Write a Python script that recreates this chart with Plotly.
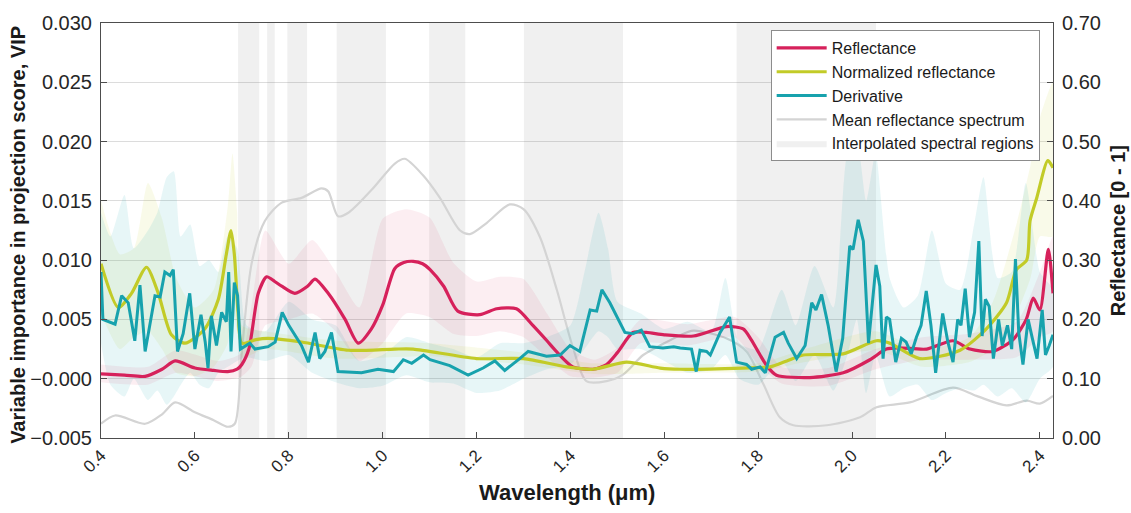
import plotly.graph_objects as go

# ---------------- data ----------------
# VIP profiles (left axis) for three model inputs
refl_wl = [0.40, 0.45, 0.494, 0.53, 0.558, 0.60, 0.64, 0.67, 0.69, 0.70, 0.715, 0.735, 0.753, 0.77,
           0.785, 0.813, 0.84, 0.856, 0.884, 0.92, 0.948, 0.976, 1.00, 1.026, 1.045, 1.065, 1.085,
           1.101, 1.13, 1.16, 1.207, 1.243, 1.285, 1.32, 1.35, 1.37, 1.405, 1.448, 1.477, 1.50,
           1.533, 1.562, 1.60, 1.662, 1.733, 1.768, 1.785, 1.804, 1.82, 1.839, 1.91, 1.981, 2.038,
           2.073, 2.10, 2.159, 2.215, 2.251, 2.30, 2.343, 2.371, 2.386, 2.40, 2.418, 2.428]
refl_vip = [0.0004, 0.0003, 0.0002, 0.0008, 0.0015, 0.0009, 0.0007, 0.0006, 0.0008, 0.0012, 0.0025,
            0.0072, 0.0086, 0.0082, 0.0078, 0.0072, 0.0078, 0.0084, 0.0072, 0.0050, 0.0030, 0.0042,
            0.0062, 0.0093, 0.0098, 0.0099, 0.0097, 0.0092, 0.0078, 0.0057, 0.0054, 0.0059, 0.0059,
            0.0045, 0.0032, 0.0023, 0.0010, 0.0008, 0.0012, 0.0022, 0.0039, 0.0039, 0.0037, 0.0036,
            0.0044, 0.0042, 0.0033, 0.0020, 0.0010, 0.0003, 0.0001, 0.0005, 0.0016, 0.0025, 0.0026,
            0.0025, 0.0032, 0.0025, 0.0023, 0.0033, 0.0050, 0.0068, 0.0058, 0.0109, 0.0072]
refl_band_wl = [0.40, 0.50, 0.56, 0.65, 0.70, 0.72, 0.75, 0.80, 0.85, 0.90, 0.95, 1.00, 1.05, 1.10,
                1.15, 1.20, 1.25, 1.30, 1.35, 1.40, 1.45, 1.50, 1.55, 1.65, 1.75, 1.80, 1.85, 1.95,
                2.05, 2.15, 2.25, 2.35, 2.40, 2.428]
refl_hi = [0.0012, 0.0010, 0.0024, 0.0015, 0.0022, 0.0060, 0.0125, 0.0097, 0.0117, 0.0090, 0.0060,
           0.0135, 0.0143, 0.0136, 0.0098, 0.0082, 0.0086, 0.0084, 0.0055, 0.0025, 0.0016, 0.0026,
           0.0050, 0.0046, 0.0052, 0.0035, 0.0010, 0.0009, 0.0025, 0.0035, 0.0038, 0.0048, 0.0090,
           0.0120]
refl_lo = [-0.0003, -0.0005, 0.0005, -0.0002, 0.0002, 0.0010, 0.0045, 0.0050, 0.0055, 0.0040, 0.0015,
           0.0030, 0.0055, 0.0052, 0.0038, 0.0036, 0.0040, 0.0035, 0.0018, 0.0002, 0.0001, 0.0005,
           0.0030, 0.0028, 0.0035, 0.0012, -0.0004, -0.0006, 0.0008, 0.0016, 0.0016, 0.0018, 0.0035,
           0.0040]

norm_wl = [0.40, 0.437, 0.465, 0.497, 0.522, 0.55, 0.579, 0.621, 0.65, 0.667, 0.677, 0.684, 0.692,
           0.70, 0.73, 0.756, 0.827, 0.927, 1.026, 1.065, 1.20, 1.30, 1.392, 1.448, 1.52, 1.591,
           1.633, 1.768, 1.825, 1.861, 1.896, 1.981, 2.052, 2.08, 2.144, 2.23, 2.286, 2.329, 2.35,
           2.372, 2.379, 2.393, 2.417, 2.428]
norm_vip = [0.0097, 0.0060, 0.0072, 0.0094, 0.0072, 0.0037, 0.0030, 0.0042, 0.0067, 0.0105, 0.0125,
            0.0105, 0.0056, 0.0030, 0.0033, 0.0034, 0.0031, 0.0024, 0.0025, 0.0025, 0.0017, 0.0017,
            0.0010, 0.0008, 0.0014, 0.0009, 0.0008, 0.0009, 0.0010, 0.0015, 0.0020, 0.0021, 0.0032,
            0.0030, 0.0017, 0.0024, 0.0042, 0.0064, 0.0092, 0.0100, 0.0133, 0.0152, 0.0184, 0.0178]
norm_band_wl = [0.40, 0.44, 0.47, 0.50, 0.53, 0.56, 0.60, 0.64, 0.67, 0.68, 0.69, 0.70, 0.75, 0.90,
                1.10, 1.30, 1.45, 1.60, 1.80, 1.90, 2.05, 2.15, 2.25, 2.30, 2.35, 2.38, 2.40, 2.428]
norm_hi = [0.0150, 0.0105, 0.0110, 0.0165, 0.0135, 0.0085, 0.0060, 0.0075, 0.0145, 0.0190, 0.0140,
           0.0045, 0.0040, 0.0032, 0.0030, 0.0022, 0.0013, 0.0013, 0.0013, 0.0025, 0.0040, 0.0025,
           0.0035, 0.0065, 0.0130, 0.0180, 0.0220, 0.0250]
norm_lo = [0.0055, 0.0025, 0.0035, 0.0040, 0.0025, 0.0005, 0.0002, 0.0010, 0.0030, 0.0060, 0.0040,
           0.0018, 0.0025, 0.0017, 0.0019, 0.0012, 0.0004, 0.0005, 0.0006, 0.0014, 0.0024, 0.0010,
           0.0014, 0.0025, 0.0055, 0.0085, 0.0120, 0.0120]

deriv_wl = [0.400, 0.404, 0.430, 0.444, 0.458, 0.472, 0.483, 0.494, 0.515, 0.526, 0.536, 0.547,
            0.554, 0.563, 0.575, 0.589, 0.600, 0.613, 0.622, 0.628, 0.635, 0.646, 0.657, 0.667,
            0.672, 0.677, 0.684, 0.691, 0.697, 0.717, 0.728, 0.756, 0.771, 0.786, 0.800, 0.827,
            0.842, 0.856, 0.866, 0.877, 0.891, 0.905, 0.955, 0.990, 1.023, 1.044, 1.062, 1.087,
            1.101, 1.143, 1.182, 1.214, 1.239, 1.260, 1.292, 1.310, 1.349, 1.378, 1.399, 1.420,
            1.442, 1.456, 1.467, 1.484, 1.516, 1.533, 1.551, 1.569, 1.597, 1.620, 1.634, 1.658,
            1.668, 1.676, 1.690, 1.698, 1.719, 1.739, 1.754, 1.775, 1.786, 1.804, 1.815, 1.836,
            1.854, 1.864, 1.882, 1.900, 1.914, 1.923, 1.935, 1.949, 1.966, 1.980, 1.995, 2.002,
            2.013, 2.024, 2.035, 2.051, 2.059, 2.066, 2.073, 2.080, 2.093, 2.105, 2.115, 2.126,
            2.137, 2.147, 2.158, 2.168, 2.178, 2.193, 2.204, 2.215, 2.225, 2.232, 2.241, 2.250,
            2.261, 2.270, 2.277, 2.284, 2.292, 2.301, 2.312, 2.320, 2.331, 2.340, 2.348, 2.355,
            2.364, 2.375, 2.384, 2.394, 2.405, 2.412, 2.420, 2.428]
deriv_vip = [0.0090, 0.0050, 0.0046, 0.0070, 0.0064, 0.0032, 0.0079, 0.0023, 0.0070, 0.0069, 0.0090,
             0.0087, 0.0092, 0.0023, 0.0038, 0.0072, 0.0025, 0.0054, 0.0031, 0.0009, 0.0053, 0.0028,
             0.0056, 0.0048, 0.0090, 0.0023, 0.0081, 0.0070, 0.0025, 0.0030, 0.0025, 0.0027, 0.0031,
             0.0056, 0.0045, 0.0028, 0.0014, 0.0039, 0.0017, 0.0023, 0.0039, 0.0006, 0.0005, 0.0008,
             0.0006, 0.0016, 0.0013, 0.0020, 0.0016, 0.0011, 0.0003, 0.0009, 0.0015, 0.0007, 0.0017,
             0.0023, 0.0019, 0.0020, 0.0028, 0.0023, 0.0058, 0.0057, 0.0075, 0.0064, 0.0039, 0.0038,
             0.0041, 0.0027, 0.0026, 0.0027, 0.0026, 0.0025, 0.0006, 0.0024, 0.0023, 0.0020, 0.0039,
             0.0052, 0.0014, 0.0012, 0.0008, 0.0010, 0.0005, 0.0035, 0.0039, 0.0030, 0.0017, 0.0028,
             0.0064, 0.0058, 0.0071, 0.0045, 0.0006, 0.0034, 0.0112, 0.0109, 0.0134, 0.0116, 0.0030,
             0.0096, 0.0078, 0.0017, 0.0052, 0.0050, 0.0014, 0.0034, 0.0031, 0.0021, 0.0035, 0.0045,
             0.0074, 0.0045, 0.0005, 0.0055, 0.0031, 0.0014, 0.0050, 0.0045, 0.0076, 0.0035, 0.0056,
             0.0116, 0.0036, 0.0067, 0.0061, 0.0017, 0.0050, 0.0028, 0.0045, 0.0025, 0.0101, 0.0039,
             0.0012, 0.0050, 0.0034, 0.0017, 0.0058, 0.0020, 0.0028, 0.0037]
deriv_band_wl = [0.40, 0.42, 0.45, 0.47, 0.50, 0.52, 0.54, 0.555, 0.57, 0.59, 0.61, 0.63, 0.65, 0.67,
                 0.69, 0.71, 0.75, 0.80, 0.85, 0.90, 0.95, 1.00, 1.05, 1.10, 1.15, 1.20, 1.25, 1.30,
                 1.35, 1.40, 1.43, 1.46, 1.48, 1.50, 1.55, 1.60, 1.65, 1.70, 1.73, 1.76, 1.80, 1.85,
                 1.88, 1.92, 1.96, 1.99, 2.01, 2.03, 2.05, 2.08, 2.11, 2.14, 2.17, 2.20, 2.23, 2.26,
                 2.28, 2.31, 2.34, 2.37, 2.40, 2.428]
deriv_hi = [0.0140, 0.0120, 0.0155, 0.0110, 0.0125, 0.0140, 0.0170, 0.0175, 0.0120, 0.0130, 0.0095,
            0.0100, 0.0090, 0.0120, 0.0110, 0.0045, 0.0040, 0.0065, 0.0050, 0.0045, 0.0015, 0.0020,
            0.0035, 0.0030, 0.0025, 0.0018, 0.0030, 0.0030, 0.0035, 0.0045, 0.0090, 0.0140, 0.0110,
            0.0065, 0.0055, 0.0042, 0.0048, 0.0040, 0.0085, 0.0030, 0.0025, 0.0075, 0.0045, 0.0095,
            0.0060, 0.0190, 0.0200, 0.0150, 0.0190, 0.0085, 0.0060, 0.0070, 0.0125, 0.0080, 0.0075,
            0.0130, 0.0170, 0.0085, 0.0090, 0.0165, 0.0090, 0.0075]
deriv_lo = [0.0030, -0.0005, -0.0015, 0.0000, -0.0018, -0.0010, -0.0022, -0.0015, -0.0005, 0.0005,
            -0.0005, -0.0008, 0.0005, 0.0010, 0.0015, 0.0018, 0.0015, 0.0020, 0.0005, -0.0003,
            -0.0008, -0.0006, 0.0003, -0.0003, -0.0004, -0.0012, -0.0010, 0.0000, 0.0008, 0.0012,
            0.0025, 0.0040, 0.0035, 0.0025, 0.0025, 0.0015, 0.0005, 0.0008, 0.0020, 0.0000, -0.0005,
            0.0015, -0.0002, 0.0020, -0.0010, 0.0020, 0.0050, -0.0012, 0.0020, -0.0015, -0.0008,
            -0.0005, -0.0018, -0.0012, -0.0008, -0.0010, -0.0005, -0.0015, -0.0008, -0.0020, 0.0000,
            0.0010]

# Mean reflectance spectrum (right axis)
mean_wl = [0.40, 0.43, 0.494, 0.53, 0.558, 0.60, 0.64, 0.67, 0.685, 0.70, 0.721, 0.749, 0.785, 0.827,
           0.870, 0.884, 0.905, 0.927, 0.977, 1.026, 1.047, 1.086, 1.122, 1.165, 1.186, 1.222, 1.271,
           1.30, 1.335, 1.371, 1.406, 1.434, 1.477, 1.512, 1.555, 1.598, 1.633, 1.662, 1.733, 1.775,
           1.811, 1.846, 1.875, 1.946, 2.017, 2.052, 2.123, 2.215, 2.265, 2.329, 2.372, 2.40, 2.428]
mean_refl = [0.024, 0.038, 0.024, 0.040, 0.060, 0.0435, 0.030, 0.019, 0.024, 0.146, 0.295, 0.366,
             0.397, 0.405, 0.421, 0.416, 0.374, 0.380, 0.419, 0.463, 0.471, 0.443, 0.405, 0.350,
             0.344, 0.363, 0.394, 0.386, 0.339, 0.250, 0.151, 0.096, 0.096, 0.107, 0.140, 0.159,
             0.173, 0.181, 0.168, 0.146, 0.091, 0.035, 0.0215, 0.0215, 0.035, 0.052, 0.060, 0.085,
             0.071, 0.055, 0.063, 0.058, 0.071]

# Interpolated spectral regions (start, end) in µm
gap_start = [0.692, 0.754, 0.797, 0.902, 1.099, 1.301, 1.754]
gap_end = [0.737, 0.770, 0.839, 1.007, 1.176, 1.512, 2.051]

x_ticks = [0.4, 0.6, 0.8, 1.0, 1.2, 1.4, 1.6, 1.8, 2.0, 2.2, 2.4]
vip_ticks = [-0.005, 0.0, 0.005, 0.010, 0.015, 0.020, 0.025, 0.030]
vip_ticktext = ["\u22120.005", "\u22120.000", "0.005", "0.010", "0.015", "0.020", "0.025", "0.030"]
refl_ticks = [0.0, 0.1, 0.2, 0.3, 0.4, 0.5, 0.6, 0.7]

X_RANGE = [0.4, 2.428]
VIP_RANGE = [-0.005, 0.030]
REFL_RANGE = [0.0, 0.70]

RED = "#D6215B"
YELLOW = "#C2CB27"
TEAL = "#17A2AD"
GREY = "#D4D4D4"
FONT = "Liberation Sans, Arial, sans-serif"

fig = go.Figure()

# gaps shaded over the full reflectance range
gx, gy = [], []
for a, b in zip(gap_start, gap_end):
    gx += [a, b, b, a, a, None]
    gy += [REFL_RANGE[0], REFL_RANGE[0], REFL_RANGE[1], REFL_RANGE[1], REFL_RANGE[0], None]
fig.add_trace(go.Scatter(x=gx, y=gy, mode="lines", fill="toself",
                         fillcolor="rgba(120,120,120,0.11)", line=dict(width=0, color="rgba(0,0,0,0)"),
                         name="Interpolated spectral regions", legendrank=5,
                         yaxis="y", hoverinfo="skip"))

fig.add_trace(go.Scatter(x=mean_wl, y=mean_refl, mode="lines",
                         line=dict(color=GREY, width=2.2, shape="spline", smoothing=0.8),
                         name="Mean reflectance spectrum", legendrank=4, yaxis="y"))


def band(wl, lo, hi, color):
    return go.Scatter(x=list(wl) + list(wl)[::-1], y=list(hi) + list(lo)[::-1],
                      mode="lines", fill="toself", fillcolor=color,
                      line=dict(width=0, color="rgba(0,0,0,0)", shape="spline", smoothing=0.6),
                      showlegend=False, hoverinfo="skip", yaxis="y2")


fig.add_trace(band(norm_band_wl, norm_lo, norm_hi, "rgba(194,203,39,0.10)"))
fig.add_trace(band(deriv_band_wl, deriv_lo, deriv_hi, "rgba(23,162,173,0.10)"))
fig.add_trace(band(refl_band_wl, refl_lo, refl_hi, "rgba(214,33,91,0.08)"))

fig.add_trace(go.Scatter(x=refl_wl, y=refl_vip, mode="lines",
                         line=dict(color=RED, width=3.2, shape="spline", smoothing=0.7),
                         name="Reflectance", legendrank=1, yaxis="y2"))
fig.add_trace(go.Scatter(x=norm_wl, y=norm_vip, mode="lines",
                         line=dict(color=YELLOW, width=3.2, shape="spline", smoothing=0.7),
                         name="Normalized reflectance", legendrank=2, yaxis="y2"))
fig.add_trace(go.Scatter(x=deriv_wl, y=deriv_vip, mode="lines",
                         line=dict(color=TEAL, width=3.0),
                         name="Derivative", legendrank=3, yaxis="y2"))

axis_line = "#4D4D4D"
tick_font = dict(family=FONT, size=20, color="#262626")
vtitle_font = dict(family=FONT, size=20, color="#1A1A1A")
xtitle_font = dict(family=FONT, size=22, color="#1A1A1A")

fig.update_layout(
    width=1131, height=513,
    margin=dict(l=101, r=78, t=15, b=75),
    paper_bgcolor="white", plot_bgcolor="white",
    showlegend=True,
    legend=dict(x=0.986, y=0.983, xanchor="right", yanchor="top",
                bgcolor="white", bordercolor="#8C8C8C", borderwidth=1,
                font=dict(family=FONT, size=16, color="#1A1A1A"),
                tracegroupgap=0, itemwidth=50),
    xaxis=dict(range=X_RANGE, tickvals=x_ticks, tickformat=".1f", tickangle=-45,
               ticks="inside", ticklen=6, tickcolor=axis_line, showline=True,
               linecolor=axis_line, linewidth=1, mirror=True, showgrid=False, zeroline=False,
               tickfont=dict(family=FONT, size=17, color="#262626")),
    yaxis=dict(range=REFL_RANGE, tickvals=refl_ticks, tickformat=".2f", side="right",
               ticks="inside", ticklen=6, tickcolor=axis_line, showline=True,
               linecolor=axis_line, linewidth=1, showgrid=True, gridcolor="#DCDCDC",
               gridwidth=1, zeroline=False, tickfont=tick_font, ticklabelstandoff=4),
    yaxis2=dict(range=VIP_RANGE, tickvals=vip_ticks, ticktext=vip_ticktext, side="left",
                overlaying="y", ticks="inside", ticklen=6, tickcolor=axis_line, showline=True,
                linecolor=axis_line, linewidth=1, showgrid=False, zeroline=False,
                tickfont=tick_font, ticklabelstandoff=4),
    annotations=[
        dict(text="<b>Variable importance in projection score, VIP</b>", textangle=-90,
             xref="paper", yref="paper", x=-0.088, y=0.49, xanchor="center", yanchor="middle",
             showarrow=False, font=vtitle_font),
        dict(text="<b>Reflectance [0 - 1]</b>", textangle=-90,
             xref="paper", yref="paper", x=1.068, y=0.5, xanchor="center", yanchor="middle",
             showarrow=False, font=vtitle_font),
        dict(text="<b>Wavelength (\u03bcm)</b>",
             xref="paper", yref="paper", x=0.49, y=-0.132, xanchor="center", yanchor="middle",
             showarrow=False, font=xtitle_font),
    ],
)

fig.write_html("out.html")
